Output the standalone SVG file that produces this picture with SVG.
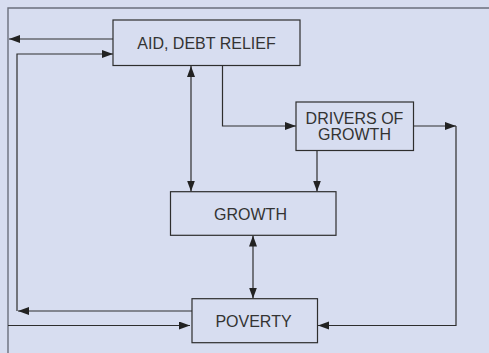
<svg xmlns="http://www.w3.org/2000/svg" width="489" height="353" viewBox="0 0 489 353">
<style>
.bg{fill:#d7ddf0}
.frame{fill:none;stroke:#6b6f7c;stroke-width:1.4}
.box{fill:#d7ddf0;stroke:#2e2e2e;stroke-width:1.2}
.lbl{font-family:"Liberation Sans",Arial,sans-serif;font-size:16px;fill:#333;text-anchor:middle}
.c{fill:none;stroke:#2e2e2e;stroke-width:1.2}
</style>
<defs>
<marker id="ah" markerUnits="userSpaceOnUse" markerWidth="12" markerHeight="9" refX="11" refY="4" orient="auto-start-reverse">
<path d="M0,0 L11,4 L0,8 z" fill="#222"/>
</marker>
</defs>
<rect class="bg" x="0" y="0" width="489" height="353"/>
<path class="frame" d="M8,353 V8 H489"/>
<g id="connectors">
<path class="c" d="M113,39 H9" marker-end="url(#ah)"/>
<path class="c" d="M17,311 V54 H113" marker-end="url(#ah)"/>
<path class="c" d="M191,66 V191.5" marker-start="url(#ah)" marker-end="url(#ah)"/>
<path class="c" d="M222.5,65.5 V126 H296" marker-end="url(#ah)"/>
<path class="c" d="M413.5,126 H456" marker-end="url(#ah)"/>
<path class="c" d="M456,126 V325.5 H318" marker-end="url(#ah)"/>
<path class="c" d="M317,150.5 V191.5" marker-end="url(#ah)"/>
<path class="c" d="M253,235.5 V298.5" marker-start="url(#ah)" marker-end="url(#ah)"/>
<path class="c" d="M192,311 H18" marker-end="url(#ah)"/>
<path class="c" d="M8,325.5 H190" marker-end="url(#ah)"/>
</g>
<g id="aid">
<rect class="box" x="113" y="20" width="187" height="45.5"/>
<text class="lbl" x="206.5" y="49">AID, DEBT RELIEF</text>
</g>
<g id="drivers">
<rect class="box" x="296" y="102" width="117.5" height="48.5"/>
<text class="lbl" x="354.5" y="124.3">DRIVERS OF</text>
<text class="lbl" x="354.5" y="140">GROWTH</text>
</g>
<g id="growth">
<rect class="box" x="170.5" y="191.7" width="165.5" height="43.6"/>
<text class="lbl" x="250.5" y="220">GROWTH</text>
</g>
<g id="poverty">
<rect class="box" x="192" y="298.7" width="125.5" height="44"/>
<text class="lbl" x="253.5" y="327.3">POVERTY</text>
</g>
</svg>
